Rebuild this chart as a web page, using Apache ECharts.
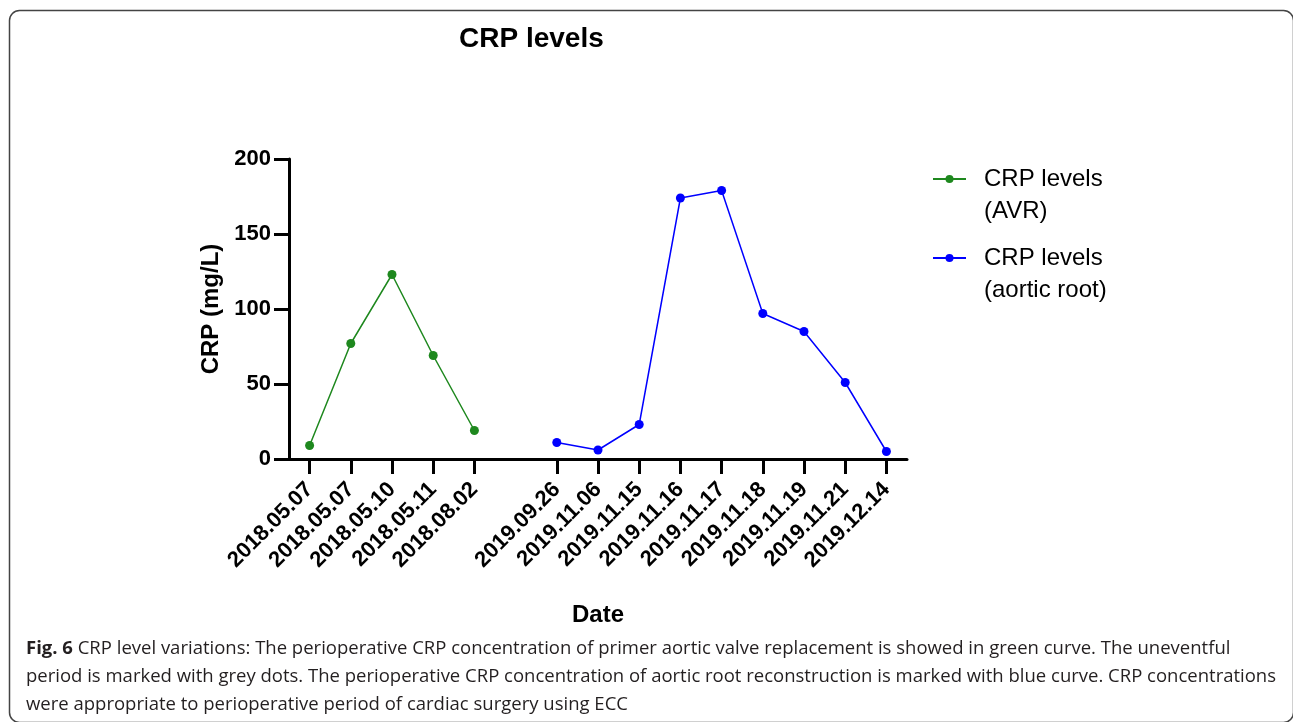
<!DOCTYPE html>
<html>
<head>
<meta charset="utf-8">
<script src="https://cdn.jsdelivr.net/npm/echarts@6/dist/echarts.min.js"></script>
<style>
  html, body { margin: 0; padding: 0; background: #fff; }
  #chart { width: 1293px; height: 722px; }
</style>
</head>
<body>
<div id="chart"></div>
<script>
// categories (blank slot separates the two operations)
const dates = [
  '2018.05.07', '2018.05.07', '2018.05.10', '2018.05.11', '2018.08.02',
  '',
  '2019.09.26', '2019.11.06', '2019.11.15', '2019.11.16', '2019.11.17',
  '2019.11.18', '2019.11.19', '2019.11.21', '2019.12.14'
]
const avrValues  = [9, 77, 123, 69, 19, '-', '-', '-', '-', '-', '-', '-', '-', '-', '-']
const rootValues = ['-', '-', '-', '-', '-', '-', 11, 6, 23, 174, 179, 97, 85, 51, 5]
const yTicks = [0, 50, 100, 150, 200]

const captionLines = [
  '{b|Fig. 6} CRP level variations: The perioperative CRP concentration of primer aortic valve replacement is showed in green curve. The uneventful',
  'period is marked with grey dots. The perioperative CRP concentration of aortic root reconstruction is marked with blue curve. CRP concentrations',
  'were appropriate to perioperative period of cardiac surgery using ECC'
]

const FONT = '"Liberation Sans", Arial, sans-serif'
const GREEN = '#1e881e'
const BLUE = '#0000ff'

const chart = echarts.init(document.getElementById('chart'))

// empty first line keeps the icon level with the first text line
const legendBase = {
  orient: 'vertical',
  left: 932,
  padding: 0,
  itemWidth: 33,
  itemHeight: 10,
  formatter: name => '\n' + name.replace(' (', '\n('),
  textStyle: { fontFamily: FONT, fontSize: 24, lineHeight: 32, color: '#000', padding: [0, 0, 0, 13] }
}

chart.setOption({
  animation: false,
  title: {
    text: 'CRP levels',
    left: 454, top: 20,
    textStyle: { fontFamily: FONT, fontSize: 28, fontWeight: 'bold', color: '#000' }
  },
  legend: [
    Object.assign({}, legendBase, { top: 131, data: ['CRP levels (AVR)'] }),
    Object.assign({}, legendBase, { top: 210, data: ['CRP levels (aortic root)'] })
  ],
  grid: { left: 289, right: 386, top: 159, bottom: 263, containLabel: false, outerBoundsMode: 'none' },
  xAxis: {
    type: 'category',
    data: dates,
    boundaryGap: true,
    name: 'Date',
    nameLocation: 'middle',
    nameGap: 144,
    nameTextStyle: { fontFamily: FONT, fontSize: 24, fontWeight: 'bold', color: '#000' },
    axisLine: { lineStyle: { color: '#000', width: 3 } },
    axisTick: { show: true, alignWithLabel: true, length: 15, interval: (i, v) => v !== '', lineStyle: { color: '#000', width: 3 } },
    axisLabel: { interval: 0, rotate: 45, margin: 27, fontFamily: FONT, fontSize: 22, fontWeight: 'bold', color: '#000' },
    splitLine: { show: false }
  },
  yAxis: {
    type: 'value',
    min: yTicks[0],
    max: yTicks[yTicks.length - 1],
    interval: yTicks[1] - yTicks[0],
    name: 'CRP (mg/L)',
    nameLocation: 'middle',
    nameGap: 66,
    nameTextStyle: { fontFamily: FONT, fontSize: 24, fontWeight: 'bold', color: '#000' },
    axisLine: { show: true, lineStyle: { color: '#000', width: 3 } },
    axisTick: { show: true, length: 15, lineStyle: { color: '#000', width: 3 } },
    axisLabel: { margin: 18, fontFamily: FONT, fontSize: 22, fontWeight: 'bold', color: '#000' },
    splitLine: { show: false }
  },
  series: [
    {
      name: 'CRP levels (AVR)', type: 'line', data: avrValues,
      symbol: 'circle', symbolSize: 9, color: GREEN,
      lineStyle: { width: 1.5, color: GREEN }, itemStyle: { color: GREEN }
    },
    {
      name: 'CRP levels (aortic root)', type: 'line', data: rootValues,
      symbol: 'circle', symbolSize: 9, color: BLUE,
      lineStyle: { width: 1.5, color: BLUE }, itemStyle: { color: BLUE }
    }
  ],
  graphic: [
    {
      type: 'rect', left: 7, top: 8, silent: true, z: -1,
      shape: { width: 1284, height: 712, r: 10 },
      style: { fill: 'none', stroke: '#444', lineWidth: 1.5 }
    }
  ].concat(captionLines.map((line, i) => ({
    type: 'text', left: 26, top: 639 + i * 28, silent: true,
    style: {
      text: line, fill: '#231f20',
      font: '18.5px "Open Sans", sans-serif',
      rich: { b: { fontWeight: 'bold', fontFamily: '"Open Sans", sans-serif', fontSize: 18.5, fill: '#231f20' } }
    }
  })))
})
</script>
</body>
</html>
